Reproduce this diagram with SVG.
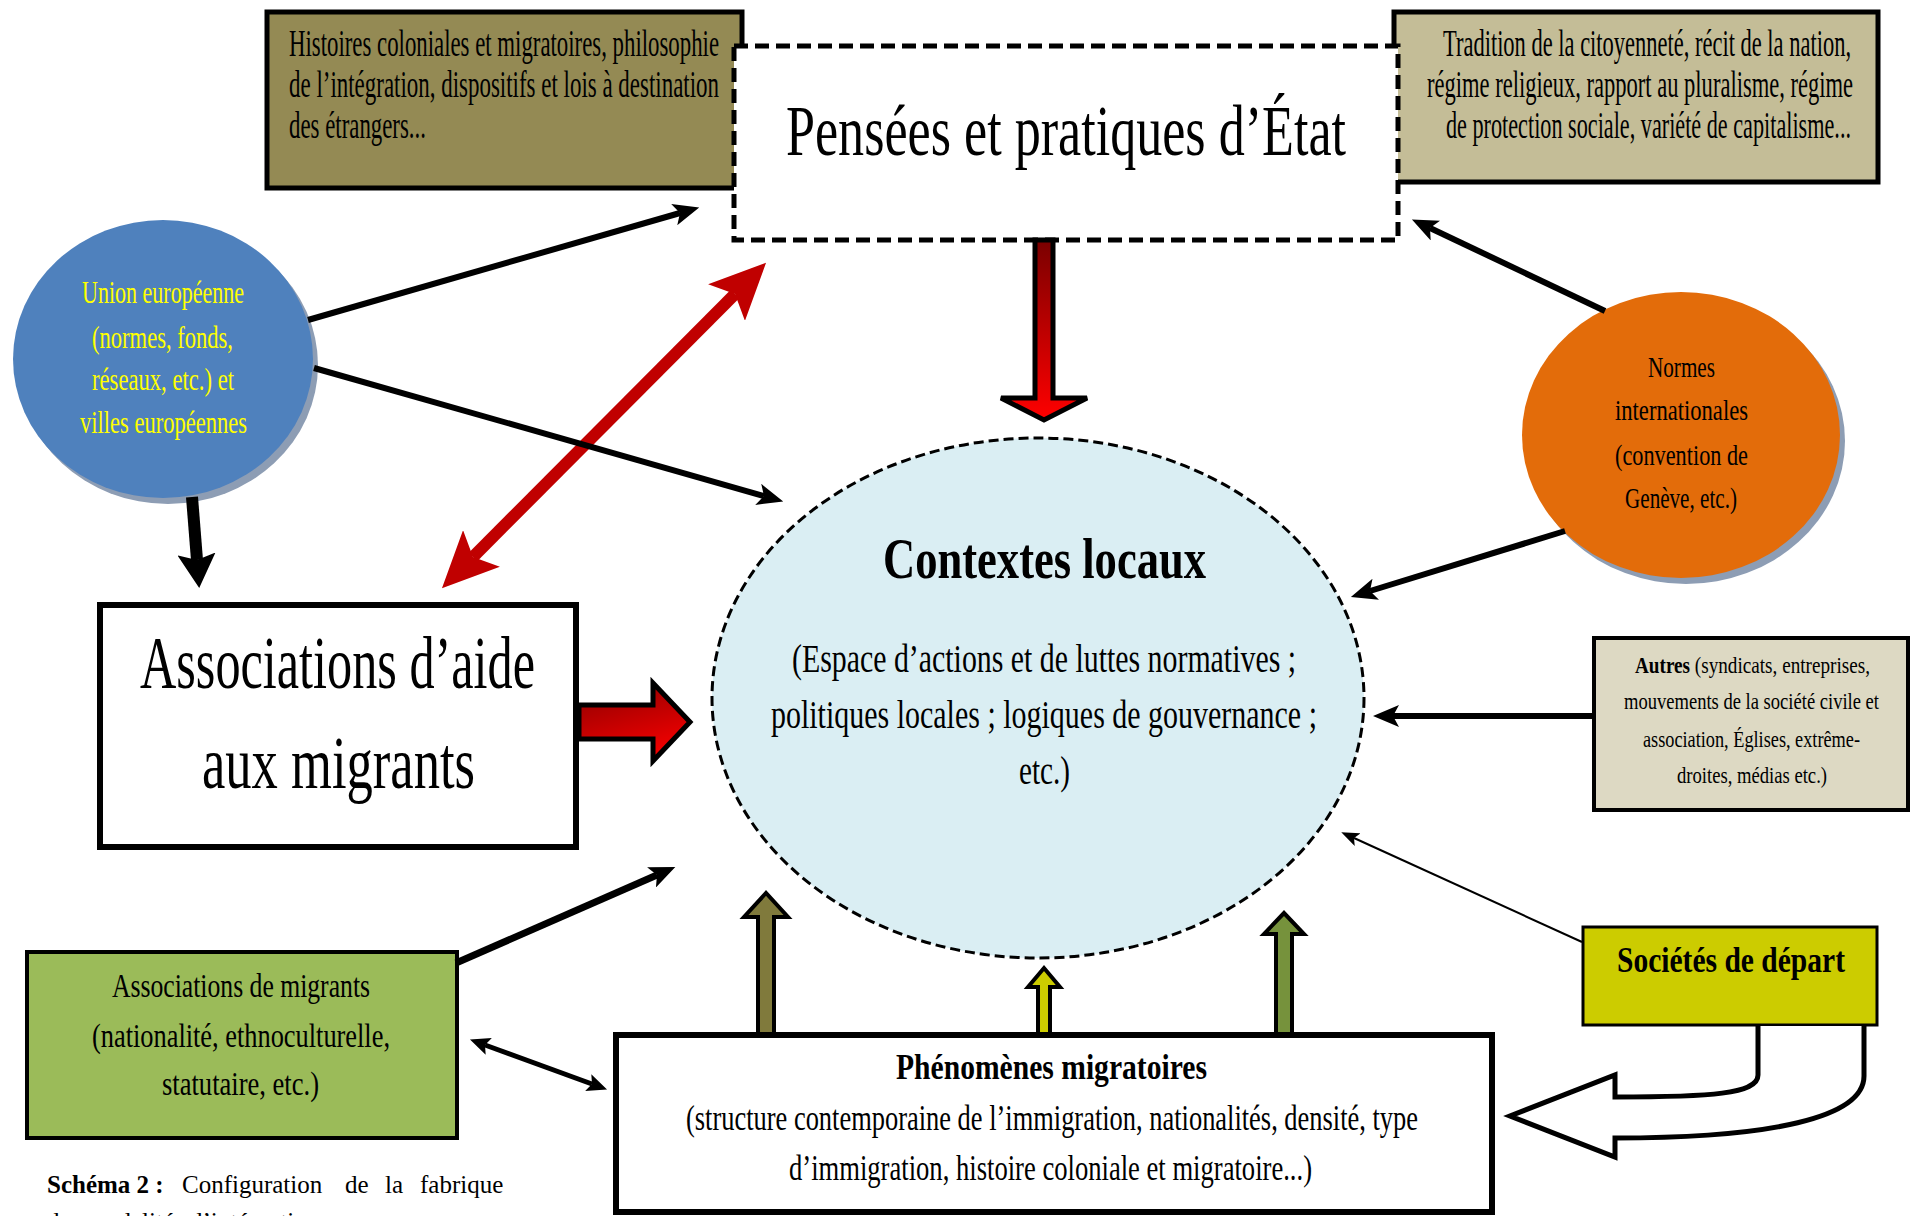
<svg xmlns="http://www.w3.org/2000/svg" width="1910" height="1216" viewBox="0 0 1910 1216">
<defs>
<style>
.t{font-family:'Liberation Serif','DejaVu Serif',serif;fill:#000}
.b{font-weight:bold}
.y{fill:#FFFF00}
.box{stroke:#000}
.ln{stroke:#000;fill:none}
.cap{font-family:'Liberation Serif','Times New Roman',serif;font-size:25px;fill:#000}
</style>
<linearGradient id="gv" x1="0" y1="0" x2="0" y2="1">
<stop offset="0" stop-color="#7A0000"/><stop offset="1" stop-color="#FF0000"/>
</linearGradient>
<linearGradient id="gh" x1="0" y1="0" x2="0.4" y2="1">
<stop offset="0" stop-color="#8B0000"/><stop offset="1" stop-color="#F00000"/>
</linearGradient>
<marker id="ah" markerUnits="userSpaceOnUse" markerWidth="26" markerHeight="22" viewBox="0 0 26 22" refX="6" refY="11" orient="auto-start-reverse"><path d="M0,0 L26,11 L0,22 L6,11 z" fill="#000"/></marker>
<marker id="ahb" markerUnits="userSpaceOnUse" markerWidth="34" markerHeight="38" viewBox="0 0 34 38" refX="6" refY="19" orient="auto"><path d="M0,0 L34,19 L0,38 L6,19 z" fill="#000"/></marker>
<marker id="ahs" markerUnits="userSpaceOnUse" markerWidth="18" markerHeight="14" viewBox="0 0 18 14" refX="4" refY="7" orient="auto"><path d="M0,0 L18,7 L0,14 L4,7 z" fill="#000"/></marker>
<marker id="ahm" markerUnits="userSpaceOnUse" markerWidth="20" markerHeight="18" viewBox="0 0 20 18" refX="4" refY="9" orient="auto-start-reverse"><path d="M0,0 L20,9 L0,18 L4,9 z" fill="#000"/></marker>
<marker id="ahr" markerUnits="userSpaceOnUse" markerWidth="56" markerHeight="52" viewBox="0 0 56 52" refX="12" refY="26" orient="auto-start-reverse"><path d="M0,0 L56,26 L0,52 L12,26 z" fill="#C00000"/></marker>
</defs>
<rect width="1910" height="1216" fill="#fff"/>

<g id="histoires">
<rect class="box" x="267" y="12" width="475" height="176" fill="#948A54" stroke-width="5"/>
<text class="t" transform="translate(289,56) scale(1,1.9)" font-size="19.5" textLength="430" lengthAdjust="spacingAndGlyphs">Histoires coloniales et migratoires, philosophie</text>
<text class="t" transform="translate(289,97) scale(1,1.9)" font-size="19.5" textLength="430" lengthAdjust="spacingAndGlyphs">de l’intégration, dispositifs et lois à destination</text>
<text class="t" transform="translate(289,138) scale(1,1.9)" font-size="19.5" textLength="137" lengthAdjust="spacingAndGlyphs">des étrangers...</text>
</g>

<g id="tradition">
<rect class="box" x="1394" y="12" width="484" height="170" fill="#C4BD97" stroke-width="5"/>
<text class="t" transform="translate(1443,56) scale(1,1.9)" font-size="19.5" textLength="408" lengthAdjust="spacingAndGlyphs">Tradition de la citoyenneté, récit de la nation,</text>
<text class="t" transform="translate(1427,97) scale(1,1.9)" font-size="19.5" textLength="426" lengthAdjust="spacingAndGlyphs">régime religieux, rapport au pluralisme, régime</text>
<text class="t" transform="translate(1446,138) scale(1,1.9)" font-size="19.5" textLength="405" lengthAdjust="spacingAndGlyphs">de protection sociale, variété de capitalisme...</text>
</g>

<g id="pensees">
<rect x="734" y="46" width="664" height="194" fill="#fff" stroke="#000" stroke-width="5" stroke-dasharray="14 7"/>
<text class="t" transform="translate(786,155) scale(1,1.5)" font-size="48" textLength="560" lengthAdjust="spacingAndGlyphs">Pensées et pratiques d’État</text>
</g>

<g id="union-europeenne">
<ellipse cx="168" cy="365" rx="150" ry="139" fill="#8D9DB4"/>
<ellipse cx="163" cy="359" rx="150" ry="139" fill="#4F81BD"/>
<text class="t y" transform="translate(82,303) scale(1,1.5)" font-size="20.7" textLength="162" lengthAdjust="spacingAndGlyphs">Union européenne</text>
<text class="t y" transform="translate(92,348) scale(1,1.5)" font-size="20.7" textLength="141" lengthAdjust="spacingAndGlyphs">(normes, fonds,</text>
<text class="t y" transform="translate(92,390) scale(1,1.5)" font-size="20.7" textLength="142" lengthAdjust="spacingAndGlyphs">réseaux, etc.) et</text>
<text class="t y" transform="translate(80,433) scale(1,1.5)" font-size="20.7" textLength="167" lengthAdjust="spacingAndGlyphs">villes européennes</text>
</g>

<g id="normes-internationales">
<ellipse cx="1686" cy="441" rx="159" ry="143" fill="#8D9DB4"/>
<ellipse cx="1681" cy="435" rx="159" ry="143" fill="#E36C0A"/>
<text class="t" transform="translate(1648,377) scale(1,1.45)" font-size="20.7" textLength="67" lengthAdjust="spacingAndGlyphs">Normes</text>
<text class="t" transform="translate(1615,420) scale(1,1.45)" font-size="20.7" textLength="133" lengthAdjust="spacingAndGlyphs">internationales</text>
<text class="t" transform="translate(1615,465) scale(1,1.45)" font-size="20.7" textLength="133" lengthAdjust="spacingAndGlyphs">(convention de</text>
<text class="t" transform="translate(1625,508) scale(1,1.45)" font-size="20.7" textLength="112" lengthAdjust="spacingAndGlyphs">Genève, etc.)</text>
</g>

<g id="contextes-locaux">
<ellipse cx="1038" cy="698" rx="326" ry="260" fill="#DAEEF3" stroke="#000" stroke-width="3" stroke-dasharray="10 5"/>
<text class="t b" transform="translate(883,578) scale(1,1.4)" font-size="40" textLength="323" lengthAdjust="spacingAndGlyphs">Contextes locaux</text>
<text class="t" transform="translate(792,672) scale(1,1.5)" font-size="26.7" textLength="504" lengthAdjust="spacingAndGlyphs">(Espace d’actions et de luttes normatives ;</text>
<text class="t" transform="translate(771,728) scale(1,1.5)" font-size="26.7" textLength="546" lengthAdjust="spacingAndGlyphs">politiques locales ; logiques de gouvernance ;</text>
<text class="t" transform="translate(1019,784) scale(1,1.5)" font-size="26.7" textLength="51" lengthAdjust="spacingAndGlyphs">etc.)</text>
</g>

<g id="associations-aide">
<rect x="100" y="605" width="476" height="242" fill="#fff" stroke="#000" stroke-width="6"/>
<text class="t" transform="translate(140,688) scale(1,1.5)" font-size="49.3" textLength="395" lengthAdjust="spacingAndGlyphs">Associations d’aide</text>
<text class="t" transform="translate(202,788) scale(1,1.5)" font-size="49.3" textLength="273" lengthAdjust="spacingAndGlyphs">aux migrants</text>
</g>

<g id="autres">
<rect x="1594" y="638" width="314" height="172" fill="#DDD9C3" stroke="#000" stroke-width="4"/>
<text class="t" transform="translate(1635,673) scale(1,1.38)" font-size="16.7" textLength="235" lengthAdjust="spacingAndGlyphs"><tspan class="b">Autres</tspan> (syndicats, entreprises,</text>
<text class="t" transform="translate(1624,709) scale(1,1.38)" font-size="16.7" textLength="255" lengthAdjust="spacingAndGlyphs">mouvements de la société civile et</text>
<text class="t" transform="translate(1643,747) scale(1,1.38)" font-size="16.7" textLength="217" lengthAdjust="spacingAndGlyphs">association, Églises, extrême-</text>
<text class="t" transform="translate(1677,783) scale(1,1.38)" font-size="16.7" textLength="150" lengthAdjust="spacingAndGlyphs">droites, médias etc.)</text>
</g>

<g id="societes-depart">
<rect x="1583" y="927" width="294" height="98" fill="#CCCC00" stroke="#000" stroke-width="3"/>
<text class="t b" transform="translate(1617,972) scale(1,1.38)" font-size="25.4" textLength="228" lengthAdjust="spacingAndGlyphs">Sociétés de départ</text>
</g>

<g id="associations-migrants">
<rect x="27" y="952" width="430" height="186" fill="#9BBB59" stroke="#000" stroke-width="4"/>
<text class="t" transform="translate(112,997) scale(1,1.5)" font-size="22.7" textLength="258" lengthAdjust="spacingAndGlyphs">Associations de migrants</text>
<text class="t" transform="translate(92,1047) scale(1,1.5)" font-size="22.7" textLength="298" lengthAdjust="spacingAndGlyphs">(nationalité, ethnoculturelle,</text>
<text class="t" transform="translate(162,1095) scale(1,1.5)" font-size="22.7" textLength="157" lengthAdjust="spacingAndGlyphs">statutaire, etc.)</text>
</g>

<g id="phenomenes">
<rect x="616" y="1035" width="876" height="177" fill="#fff" stroke="#000" stroke-width="6"/>
<text class="t b" transform="translate(896,1079) scale(1,1.3)" font-size="26.9" textLength="311" lengthAdjust="spacingAndGlyphs">Phénomènes migratoires</text>
<text class="t" transform="translate(686,1130) scale(1,1.45)" font-size="24.1" textLength="732" lengthAdjust="spacingAndGlyphs">(structure contemporaine de l’immigration, nationalités, densité, type</text>
<text class="t" transform="translate(789,1180) scale(1,1.45)" font-size="24.1" textLength="523" lengthAdjust="spacingAndGlyphs">d’immigration, histoire coloniale et migratoire...)</text>
</g>

<g id="connectors">
<polygon points="1035,240 1053,240 1053,398 1087,398 1044,420 1001,398 1035,398" fill="url(#gv)" stroke="#000" stroke-width="5" stroke-linejoin="miter"/>
<polygon points="579,705 653,705 653,683 690,722 653,761 653,739 579,739" fill="url(#gh)" stroke="#000" stroke-width="5"/>
<line x1="473" y1="557" x2="735" y2="294" stroke="#C00000" stroke-width="12" marker-start="url(#ahr)" marker-end="url(#ahr)"/>
<line class="ln" x1="308" y1="320" x2="680" y2="213" stroke-width="6" marker-end="url(#ah)"/>
<line class="ln" x1="314" y1="368" x2="764" y2="496" stroke-width="6" marker-end="url(#ah)"/>
<line class="ln" x1="192" y1="497" x2="197" y2="560" stroke-width="12" marker-end="url(#ahb)"/>
<line class="ln" x1="1605" y1="311" x2="1430" y2="228" stroke-width="6" marker-end="url(#ah)"/>
<line class="ln" x1="1565" y1="531" x2="1370" y2="591" stroke-width="6" marker-end="url(#ah)"/>
<line class="ln" x1="1594" y1="716" x2="1393" y2="716" stroke-width="6" marker-end="url(#ah)"/>
<line class="ln" x1="1582" y1="942" x2="1354" y2="838" stroke-width="2" marker-end="url(#ahs)"/>
<line class="ln" x1="456" y1="963" x2="657" y2="875" stroke-width="7" marker-end="url(#ah)"/>
<line class="ln" x1="485" y1="1045" x2="592" y2="1084" stroke-width="5" marker-start="url(#ahm)" marker-end="url(#ahm)"/>
<polygon points="758,1034 758,917 744,917 766,893 788,917 774,917 774,1034" fill="#807A3C" stroke="#000" stroke-width="4"/>
<polygon points="1038,1034 1038,987 1028,987 1044,968 1060,987 1050,987 1050,1034" fill="#CCCC00" stroke="#000" stroke-width="4"/>
<polygon points="1276,1034 1276,934 1264,934 1284,913 1304,934 1292,934 1292,1034" fill="#76923C" stroke="#000" stroke-width="4"/>
<path d="M1758,1026 L1758,1075 C1758,1094 1710,1097 1615,1097 L1615,1075 L1510,1116 L1615,1157 L1615,1138 C1770,1138 1864,1118 1864,1076 L1864,1026" fill="#fff" stroke="#000" stroke-width="5"/>
</g>

<g id="caption">
<text class="cap" y="1193"><tspan x="47" font-weight="bold">Schéma 2 :</tspan><tspan x="182">Configuration</tspan><tspan x="345">de</tspan><tspan x="385">la</tspan><tspan x="420">fabrique</tspan></text>
<text class="cap" x="47" y="1230">des modalités d’intégration</text>
</g>
</svg>
